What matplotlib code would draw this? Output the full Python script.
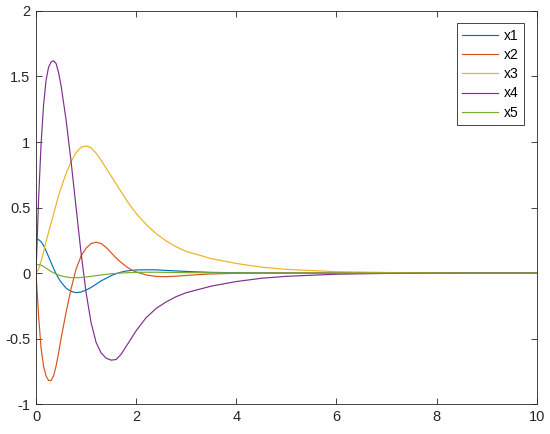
import matplotlib.pyplot as plt

# sample times and the five state curves
t = [0, 0.05, 0.1, 0.15, 0.2, 0.25, 0.3, 0.35, 0.4, 0.45, 0.5, 0.6, 0.7, 0.8, 0.9,
     1.0, 1.1, 1.2, 1.3, 1.4, 1.5, 1.6, 1.7, 1.8, 1.9, 2.0, 2.2, 2.4, 2.6, 2.8, 3.0,
     3.5, 4.0, 4.5, 5, 6, 7, 8, 9, 10]

x1 = [0.26, 0.255, 0.24, 0.21, 0.17, 0.125, 0.08, 0.035, -0.005, -0.04, -0.07, -0.115,
      -0.14, -0.15, -0.145, -0.13, -0.11, -0.085, -0.06, -0.04, -0.02, -0.005, 0.007,
      0.015, 0.02, 0.023, 0.025, 0.024, 0.02, 0.016, 0.012, 0.005, 0.002, 0.001, 0, 0,
      0, 0, 0, 0]
x2 = [0, -0.32, -0.57, -0.71, -0.785, -0.82, -0.82, -0.785, -0.71, -0.61, -0.5, -0.3,
      -0.12, 0.03, 0.13, 0.19, 0.225, 0.235, 0.225, 0.195, 0.155, 0.115, 0.08, 0.05,
      0.025, 0.008, -0.015, -0.026, -0.028, -0.024, -0.018, -0.007, -0.002, -0.001, 0,
      0, 0, 0, 0, 0]
x3 = [0, 0.03, 0.09, 0.16, 0.24, 0.31, 0.38, 0.45, 0.52, 0.59, 0.65, 0.76, 0.85, 0.92,
      0.96, 0.97, 0.955, 0.915, 0.86, 0.8, 0.74, 0.68, 0.62, 0.56, 0.505, 0.455, 0.37,
      0.3, 0.245, 0.2, 0.165, 0.11, 0.073, 0.045, 0.028, 0.01, 0.004, 0.001, 0, 0]
x4 = [0, 0.55, 0.98, 1.28, 1.47, 1.57, 1.61, 1.62, 1.6, 1.53, 1.43, 1.17, 0.85, 0.5,
      0.15, -0.15, -0.38, -0.53, -0.61, -0.65, -0.665, -0.66, -0.62, -0.56, -0.5,
      -0.44, -0.34, -0.27, -0.22, -0.18, -0.15, -0.1, -0.065, -0.04, -0.025, -0.009,
      -0.003, -0.001, 0, 0]
x5 = [0.06, 0.065, 0.06, 0.05, 0.037, 0.024, 0.012, 0.002, -0.007, -0.015, -0.021,
      -0.03, -0.035, -0.036, -0.034, -0.03, -0.025, -0.02, -0.015, -0.01, -0.006,
      -0.003, 0, 0.002, 0.004, 0.005, 0.006, 0.006, 0.005, 0.004, 0.003, 0.002, 0.001,
      0, 0, 0, 0, 0, 0, 0]

labels = ['x1', 'x2', 'x3', 'x4', 'x5']
colors = ['#0072BD', '#D95319', '#EDB120', '#7E2F8E', '#77AC30']

plt.rcParams['font.family'] = ['Liberation Sans', 'DejaVu Sans']

fig = plt.figure(figsize=(5.5, 4.34), dpi=100)
ax = fig.add_axes([0.0655, 0.069, 0.9105, 0.9057])

for y, lab, c in zip([x1, x2, x3, x4, x5], labels, colors):
    ax.plot(t, y, color=c, lw=0.85, label=lab)

ax.set_xlim(0, 10)
ax.set_ylim(-1, 2)
ax.set_xticks([0, 2, 4, 6, 8, 10])
ax.set_yticks([-1, -0.5, 0, 0.5, 1, 1.5, 2])
ax.set_yticklabels(['-1', '-0.5', '0', '0.5', '1', '1.5', '2'])
ax.tick_params(direction='in', top=True, right=True, length=4, width=0.6,
               color='#262626', labelsize=10.5, labelcolor='#262626', pad=4)
for s in ax.spines.values():
    s.set_color('#262626')
    s.set_linewidth(0.6)

leg = ax.legend(loc='upper right', borderaxespad=0.9, handlelength=2.6,
                labelspacing=0.37, fancybox=False, framealpha=1, fontsize=10,
                borderpad=0.4, handletextpad=0.4)
leg.get_frame().set_edgecolor('#262626')
leg.get_frame().set_linewidth(0.6)

fig.savefig('out.png')
